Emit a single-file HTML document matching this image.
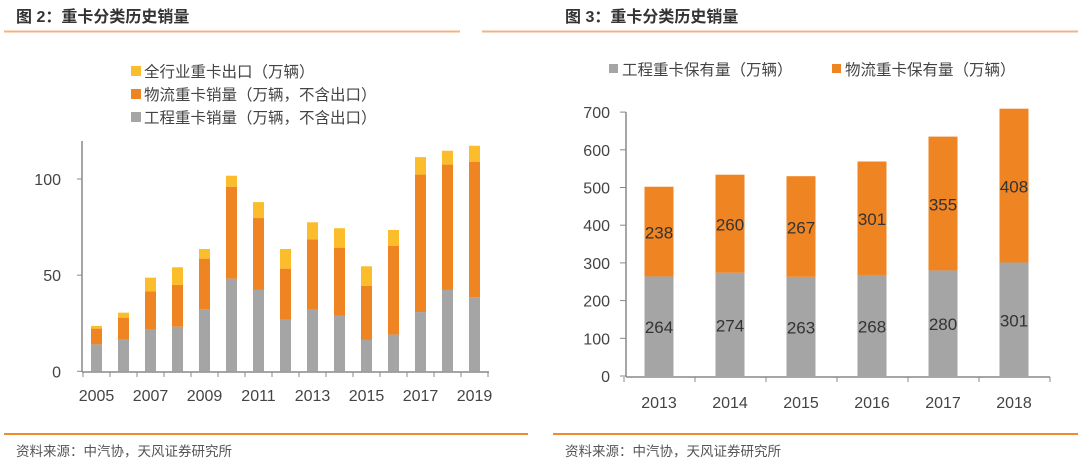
<!DOCTYPE html>
<html><head><meta charset="utf-8"><style>
body{margin:0;background:#fff;width:1080px;height:467px;overflow:hidden;font-family:"Liberation Sans","Noto Sans CJK SC",sans-serif;}
svg text{font-family:"Liberation Sans","Noto Sans CJK SC",sans-serif;}
</style></head><body>
<svg width="1080" height="467">
<text x="16" y="22" font-size="16" font-weight="bold" fill="#333">图 2：重卡分类历史销量</text>
<line x1="4" y1="31.5" x2="460" y2="31.5" stroke="#f4b183" stroke-width="2"/>
<text x="565" y="22" font-size="16" font-weight="bold" fill="#333">图 3：重卡分类历史销量</text>
<line x1="482" y1="31.5" x2="1078" y2="31.5" stroke="#f4b183" stroke-width="2"/>
<line x1="4" y1="434" x2="528" y2="434" stroke="#f08a2c" stroke-width="2"/>
<line x1="553" y1="434" x2="1078" y2="434" stroke="#f08a2c" stroke-width="2"/>
<text x="16" y="456" font-size="13.5" fill="#555">资料来源：中汽协，天风证券研究所</text>
<text x="565" y="456" font-size="13.5" fill="#555">资料来源：中汽协，天风证券研究所</text>
<g id="left"></g>
<g id="right"></g>
</svg>
<script>
const years1=['2005','2006','2007','2008','2009','2010','2011','2012','2013','2014','2015','2016','2017','2018','2019'];
const eng1=[14.0,16.8,22.0,23.2,32.2,48.2,42.3,27.2,32.4,28.8,16.3,19.1,30.8,42.3,38.6];
const log1=[8.2,11.1,19.6,21.7,26.4,47.8,37.4,26.2,36.2,35.5,28.1,46.2,71.5,65.2,70.4];
const exp1=[1.4,2.6,7.1,9.2,5.0,5.7,8.3,10.2,8.9,10.1,10.2,8.2,9.1,7.2,8.3];
const ticks1=[0,50,100];
const cats2=['2013','2014','2015','2016','2017','2018'];
const eng2=[264,274,263,268,280,301];
const log2=[238,260,267,301,355,408];
const ticks2=[0,100,200,300,400,500,600,700];
const NS='http://www.w3.org/2000/svg';
function mk(p,t,a,txt){const e=document.createElementNS(NS,t);for(const k in a)e.setAttribute(k,a[k]);if(txt!=null)e.textContent=txt;p.appendChild(e);return e;}
const C={g:'#a5a5a5',o:'#ef8423',y:'#fbbd2b'};
const L=document.getElementById('left');
const y1=v=>371.3-v*1.923; const x1=i=>96.5+i*27.0;
ticks1.forEach(t=>{const e=mk(L,'text',{x:61,y:y1(t)+6,'text-anchor':'end','font-size':16,fill:'#444'},t);


mk(L,'line',{x1:77,x2:82,y1:y1(t),y2:y1(t),stroke:'#888'});});
mk(L,'line',{x1:82,x2:82,y1:141,y2:372,stroke:'#888','stroke-width':1.5});
mk(L,'line',{x1:82,x2:489,y1:372,y2:372,stroke:'#888','stroke-width':1.5});
for(let i=0;i<=15;i++){const xx=83+i*27.0;mk(L,'line',{x1:xx,x2:xx,y1:372,y2:377,stroke:'#888'});}
years1.forEach((yr,i)=>{
 const cx=x1(i),w=11;let base=0;
 [[eng1[i],C.g,'bar-engineering'],[log1[i],C.o,'bar-logistics'],[exp1[i],C.y,'bar-export']].forEach(([v,c,n])=>{
  const r=mk(L,'rect',{x:cx-w/2,y:y1(base+v),width:w,height:y1(base)-y1(base+v),fill:c});
  
  
  base+=v;});
 if(i%2==0){const t=mk(L,'text',{x:cx,y:401,'text-anchor':'middle','font-size':16,fill:'#444'},yr);
 
 }
});
[['全行业重卡出口（万辆）',C.y,77],['物流重卡销量（万辆，不含出口）',C.o,100],['工程重卡销量（万辆，不含出口）',C.g,123]].forEach(([t,c,yy])=>{
 const g=mk(L,'g',{});
 
 
 mk(g,'rect',{x:131,y:yy-11,width:10,height:10,fill:c});
 mk(g,'text',{x:144,y:yy,'font-size':15.5,fill:'#444'},t);});
const R=document.getElementById('right');
const y2=v=>376-v*0.377; const x2=i=>659+i*71;
ticks2.forEach(t=>{const e=mk(R,'text',{x:610,y:y2(t)+6,'text-anchor':'end','font-size':16,fill:'#444'},t);


mk(R,'line',{x1:620,x2:626,y1:y2(t),y2:y2(t),stroke:'#888'});});
mk(R,'line',{x1:626,x2:626,y1:112,y2:377,stroke:'#888','stroke-width':1.5});
mk(R,'line',{x1:626,x2:1050,y1:377,y2:377,stroke:'#888','stroke-width':1.5});
for(let i=0;i<=6;i++){const xx=624+i*71;mk(R,'line',{x1:xx,x2:xx,y1:377,y2:382,stroke:'#888'});}
cats2.forEach((yr,i)=>{
 const cx=x2(i),w=29;
 const a=mk(R,'rect',{x:cx-w/2,y:y2(eng2[i]),width:w,height:y2(0)-y2(eng2[i]),fill:C.g});
 
 
 const b=mk(R,'rect',{x:cx-w/2,y:y2(eng2[i]+log2[i]),width:w,height:y2(eng2[i])-y2(eng2[i]+log2[i]),fill:C.o});
 
 
 const l1=mk(R,'text',{x:cx,y:(y2(0)+y2(eng2[i]))/2+7,'text-anchor':'middle','font-size':17,fill:'#333'},eng2[i]);
 
 
 const l2=mk(R,'text',{x:cx,y:(y2(eng2[i])+y2(eng2[i]+log2[i]))/2+7,'text-anchor':'middle','font-size':17,fill:'#333'},log2[i]);
 
 
 const t=mk(R,'text',{x:cx,y:408,'text-anchor':'middle','font-size':16,fill:'#444'},yr);
 
 
});
[['工程重卡保有量（万辆）',C.g,609],['物流重卡保有量（万辆）',C.o,832]].forEach(([t,c,xx])=>{
 const g=mk(R,'g',{});
 
 
 mk(g,'rect',{x:xx,y:64,width:9,height:9,fill:c});
 mk(g,'text',{x:xx+13,y:75,'font-size':15.5,fill:'#444'},t);});
</script>
</body></html>
